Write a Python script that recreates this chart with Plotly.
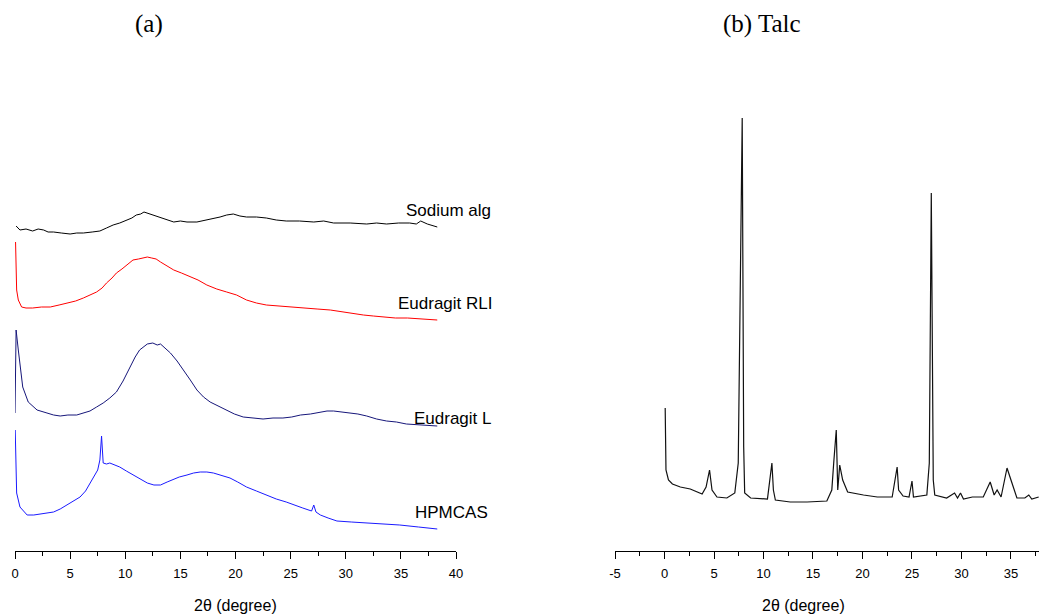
import plotly.graph_objects as go

# ---------------- data (2θ in degrees, intensity in arbitrary units, stacked) ----------------
sodium_x = [0.1, 0.45, 1.0, 1.6, 2.1, 2.6, 3.0, 3.5, 4.2, 5.0, 5.6, 6.2, 7.0, 7.7, 8.3, 8.9, 9.5, 10.1, 10.6, 11.0, 11.4, 11.7,
            12.2, 12.7, 13.2, 13.8, 14.4, 15.0, 15.6, 16.5, 17.4, 18.0, 18.6, 19.2, 19.8, 20.4, 21.0, 21.9, 22.8, 23.7,
            24.6, 25.8, 27.1, 28.0, 28.9, 30.4, 31.9, 32.8, 33.7, 34.8, 35.8, 36.4, 36.8, 37.4, 38.3]
sodium_y = [325, 321, 322, 320, 322, 321, 319, 319, 318, 317, 318, 318, 319, 320, 323, 326, 328, 331, 333, 336, 337, 339,
            337, 335, 333, 331, 329, 330, 329, 329, 331, 332, 334, 336, 337, 335, 334, 334, 333, 331,
            330, 330, 329, 330, 328, 328, 327, 328, 327, 328, 328, 327, 330, 327, 324]

rli_x = [0.05, 0.15, 0.3, 0.6, 1.0, 1.6, 2.4, 3.2, 4.0, 4.7, 5.5, 6.2, 6.8, 7.4, 7.9, 8.3, 8.8, 9.2, 9.7, 10.1, 10.7,
         11.2, 11.6, 12.0, 12.4, 12.8, 13.2, 13.8, 14.4, 15.1, 15.9, 16.6, 17.4, 18.3, 19.2, 20.1, 21.0, 21.9, 22.8,
         23.8, 24.9, 26.1, 27.4, 28.6, 29.8, 30.7, 31.6, 32.5, 33.4, 34.5, 35.6, 37.0, 38.3]
rli_y = [309, 261, 251, 244, 243, 243, 244, 244, 246, 248, 250, 253, 256, 259, 263, 268, 273, 278, 282, 286, 291,
         292, 293, 294, 293, 292, 289, 285, 281, 278, 274, 271, 266, 262, 259, 256, 251, 248, 246,
         245, 244, 243, 242, 241, 239, 237, 236, 235, 234, 233, 233, 232, 231]

eudl_x = [0.0, 0.1, 0.3, 0.45, 0.7, 1.2, 2.0, 2.9, 3.5, 4.1, 4.8, 5.6, 6.2, 6.8, 7.4, 8.0, 8.6, 9.2, 9.8, 10.4, 10.9,
          11.3, 11.7, 12.0, 12.5, 12.9, 13.2, 13.6, 14.1, 14.7, 15.3, 15.9, 16.5, 17.1, 17.7, 18.4, 19.2, 19.9,
          20.7, 21.6, 22.5, 23.4, 24.3, 25.1, 25.9, 26.8, 27.7, 28.3, 28.9, 29.6, 30.4, 31.1, 31.9, 32.8, 33.7,
          34.6, 35.5, 36.9, 38.3]
eudl_y = [138, 221, 201, 188, 164, 149, 141, 138, 136, 135, 136, 136, 138, 140, 144, 148, 153, 159, 170, 184, 194,
          201, 205, 207, 208, 206, 207, 203, 198, 190, 181, 171, 161, 154, 149, 145, 141, 137,
          134, 133, 132, 133, 133, 134, 136, 137, 139, 140, 140, 139, 138, 137, 135, 132, 130,
          129, 127, 126, 125]

hpmcas_x = [0.02, 0.15, 0.45, 1.1, 1.7, 2.3, 2.9, 3.5, 4.1, 4.7, 5.3, 5.9, 6.4, 6.8, 7.2, 7.5, 7.7, 7.85, 8.0, 8.3,
            8.6, 9.0, 9.5, 10.1, 10.7, 11.3, 12.0, 12.6, 13.2, 13.8, 14.3, 14.9, 15.6, 16.2, 16.8, 17.4, 18.0,
            18.7, 19.5, 20.2, 21.0, 21.9, 22.8, 23.7, 24.6, 25.3, 26.1, 26.9, 27.1, 27.3, 27.7, 28.4, 29.2, 30.5,
            31.9, 33.4, 34.9, 36.6, 38.3]
hpmcas_y = [121, 58, 44, 36, 36, 37, 38, 39, 42, 46, 50, 54, 60, 68, 75, 81, 91, 115, 88, 87,
            88, 86, 84, 80, 76, 72, 68, 66, 66, 69, 71, 74, 76, 78, 79, 79, 78,
            76, 73, 69, 64, 60, 56, 52, 49, 46, 43, 40, 46, 39, 36, 33, 30, 29,
            28, 27, 26, 24, 22]

talc_x = [0.07, 0.15, 0.4, 0.8, 1.6, 2.6, 3.8, 4.2, 4.55, 4.8, 5.3, 6.3, 7.1, 7.45, 7.85, 8.0, 8.1, 8.7, 10.4, 10.6,
          10.85, 11.0, 11.2, 12.7, 14.4, 16.4, 16.9, 17.1, 17.35, 17.5, 17.7, 18.0, 18.5, 20.1, 21.5, 23.0, 23.3,
          23.5, 23.65, 24.1, 24.7, 25.0, 25.15, 26.5, 26.75, 26.95, 27.15, 27.3, 28.5, 29.3, 29.6, 29.9, 30.2,
          31.1, 32.2, 32.9, 33.3, 33.6, 34.0, 34.6, 35.1, 35.6, 36.4, 36.8, 37.1, 37.8]
talc_y = [143, 81, 71, 67, 64, 62, 57, 64, 81, 61, 54, 53, 58, 88, 433, 104, 58, 53, 52, 71,
          88, 61, 51, 49, 49, 50, 61, 89, 121, 61, 86, 71, 59, 56, 54, 54, 71,
          84, 61, 55, 54, 70, 54, 56, 88, 358, 71, 56, 53, 58, 53, 58, 52,
          54, 54, 69, 56, 61, 54, 83, 68, 53, 53, 56, 52, 54]

labels_a = ["Sodium alg", "Eudragit RLI", "Eudragit L", "HPMCAS"]
label_level = [341, 248, 133, 39]
series_a = [(sodium_x, sodium_y, "#000000"), (rli_x, rli_y, "#ff0000"),
            (eudl_x, eudl_y, "#16167a"), (hpmcas_x, hpmcas_y, "#1a1aff")]

ticks_a = [0, 5, 10, 15, 20, 25, 30, 35, 40]
ticks_b = [-5, 0, 5, 10, 15, 20, 25, 30, 35]

# ---------------- figure ----------------
W, H = 1039, 615
fig = go.Figure()
for (xs, ys, col) in series_a:
    fig.add_trace(go.Scatter(x=xs, y=ys, mode="lines", line=dict(color=col, width=1),
                             xaxis="x", yaxis="y", showlegend=False, hoverinfo="skip"))
fig.add_trace(go.Scatter(x=talc_x, y=talc_y, mode="lines", line=dict(color="#111111", width=1.2),
                         xaxis="x2", yaxis="y2", showlegend=False, hoverinfo="skip"))

tickfont = dict(family="Liberation Sans, Arial, sans-serif", size=13, color="black")
axis_common = dict(showgrid=False, zeroline=False, showline=True, linecolor="black", linewidth=1.2,
                   ticks="outside", ticklen=7, tickwidth=1.2, tickcolor="black", tickfont=tickfont,
                   tickmode="array", automargin=False, ticklabelstandoff=3,
                   minor=dict(ticks="outside", ticklen=4, dtick=2.5, tickwidth=1.2, tickcolor="black"))

fig.update_layout(
    width=W, height=H, autosize=False,
    margin=dict(l=0, r=0, t=0, b=64, pad=0, autoexpand=False),
    paper_bgcolor="white", plot_bgcolor="white",
    xaxis=dict(domain=[15 / W, 456 / W], range=[0, 40], anchor="y",
               tickvals=ticks_a, ticktext=[str(v) for v in ticks_a], **axis_common),
    yaxis=dict(domain=[0, 1], range=[0, 551], visible=False),
    xaxis2=dict(domain=[615 / W, 1.0], range=[-5, 37.83], anchor="y2",
                tickvals=ticks_b, ticktext=[str(v) for v in ticks_b], **axis_common),
    yaxis2=dict(domain=[0, 1], range=[0, 551], visible=False, anchor="x2"),
)

lab_font = dict(family="Liberation Sans, Arial, sans-serif", size=17, color="black")
label_right = [493, 495, 494, 490]
for txt, lvl, rx in zip(labels_a, label_level, label_right):
    fig.add_annotation(x=rx / W, xref="paper", y=lvl, yref="y", text=txt, showarrow=False,
                       xanchor="right", yanchor="middle", font=lab_font)

title_font = dict(family="Liberation Serif, Times New Roman, serif", size=25, color="black")
fig.add_annotation(x=149 / W, y=(551 - 24) / 551, xref="paper", yref="paper", text="(a)",
                   showarrow=False, xanchor="center", yanchor="middle", font=title_font)
fig.add_annotation(x=762 / W, y=(551 - 24) / 551, xref="paper", yref="paper", text="(b) Talc",
                   showarrow=False, xanchor="center", yanchor="middle", font=title_font)

xt_font = dict(family="Liberation Sans, Arial, sans-serif", size=16, color="black")
for cx in (235, 803):
    fig.add_annotation(x=cx / W, y=(551 - 605) / 551, xref="paper", yref="paper", text="2θ (degree)",
                       showarrow=False, xanchor="center", yanchor="middle", font=xt_font)

fig.write_html("out.html", config={"displayModeBar": False},
               post_script="document.body.style.margin='0px';")
